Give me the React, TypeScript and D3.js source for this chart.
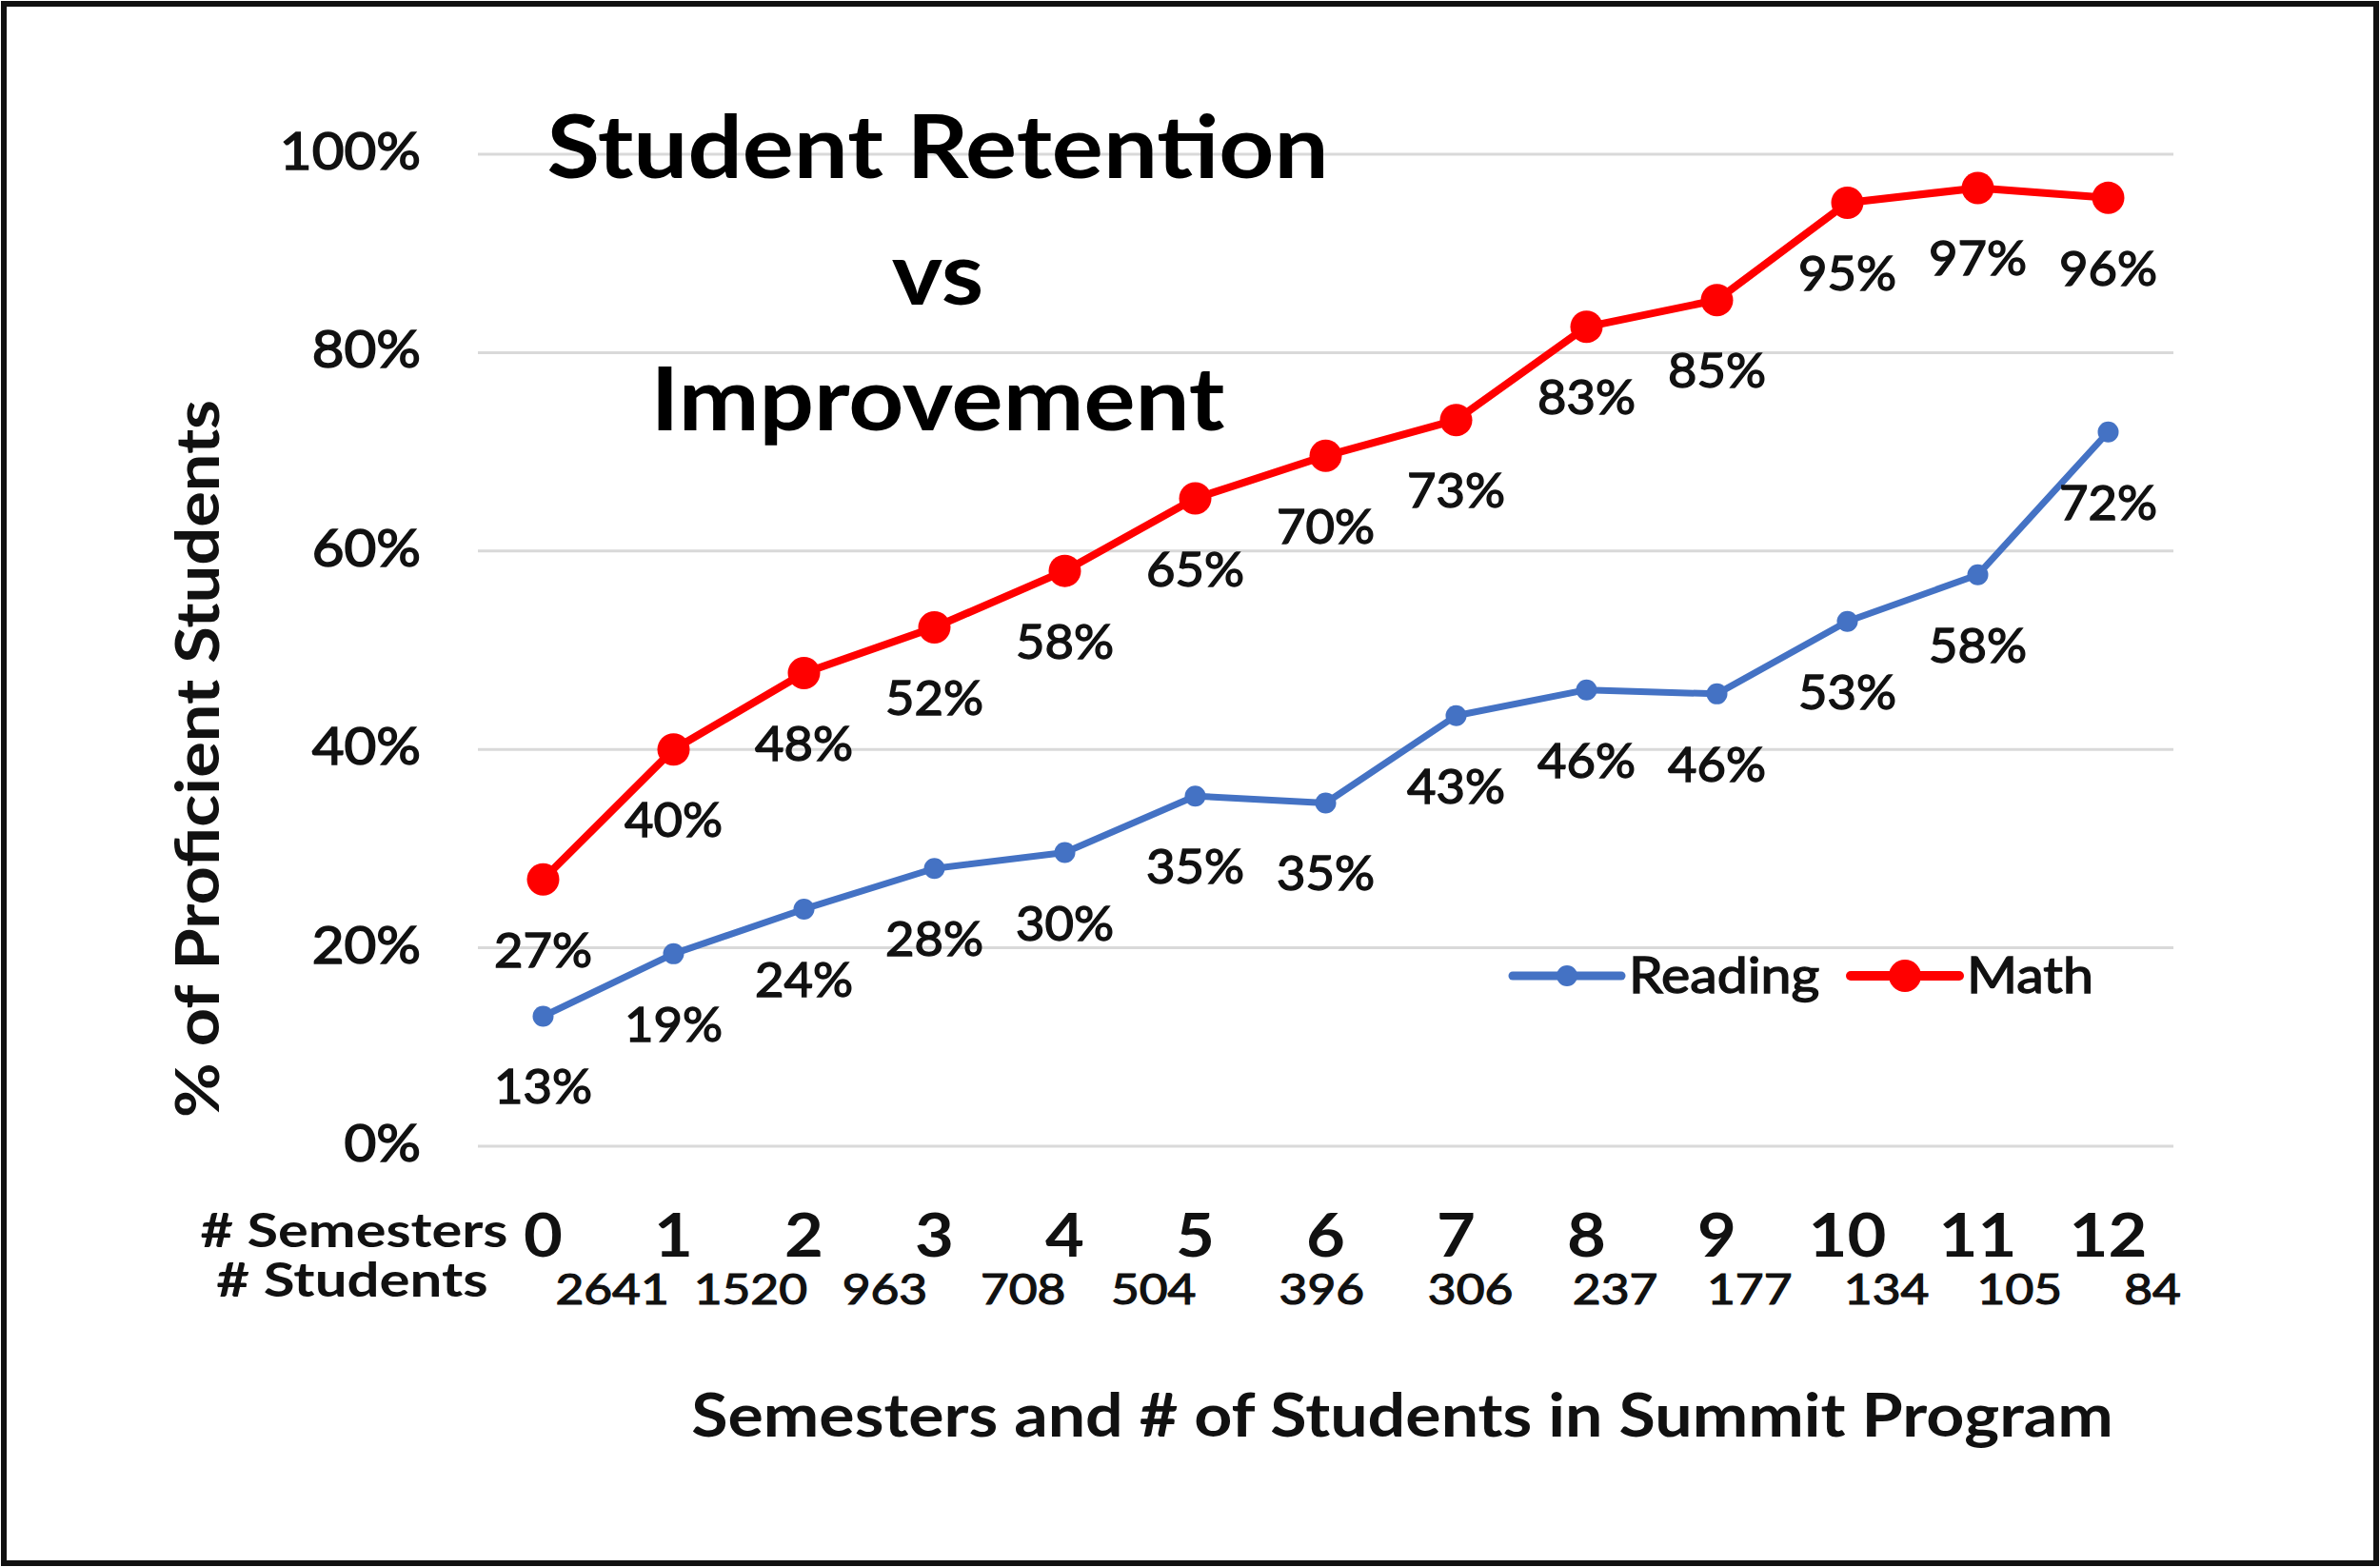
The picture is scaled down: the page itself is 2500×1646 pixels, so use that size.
import React from "react";
import * as d3 from "d3";

const semesters = ["0", "1", "2", "3", "4", "5", "6", "7", "8", "9", "10", "11", "12"];
const studentCounts = [2641, 1520, 963, 708, 504, 396, 306, 237, 177, 134, 105, 84];
const readingValues = [0.131, 0.194, 0.239, 0.28, 0.296, 0.353, 0.346, 0.434, 0.46, 0.456, 0.529, 0.576, 0.72];
const mathValues = [0.269, 0.4, 0.477, 0.523, 0.58, 0.653, 0.696, 0.732, 0.826, 0.853, 0.951, 0.966, 0.956];
const yTicks = [0, 0.2, 0.4, 0.6, 0.8, 1.0];
const titleLines = ["Student Retention", "vs", "Improvement"];

// layout: where each student-count label sits, in category units
const countSlots = [0.53, 1.59, 2.62, 3.68, 4.68, 5.97, 7.11, 8.22, 9.25, 10.3, 11.32, 12.34];

const W = 2500;
const H = 1646;
const FONT = "Lato, Carlito, 'Open Sans', sans-serif";

function T(props: any) {
  const { x, y, sx = 1, rot = 0, thick = 0, children, ...rest } = props;
  return (
    <text
      transform={`translate(${x},${y}) rotate(${rot}) scale(${sx},1)`}
      fontFamily={FONT}
      stroke={thick ? "#111" : undefined}
      strokeWidth={thick || undefined}
      paintOrder="stroke"
      {...rest}
    >
      {children}
    </text>
  );
}

export default function App() {
  const x = d3.scaleBand<string>().domain(semesters).range([502, 2283]).padding(0);
  const cx = (i: number) => (x(semesters[i]) as number) + x.bandwidth() / 2;
  const y = d3.scaleLinear().domain([0, 1]).range([1204, 162]);
  const pct = d3.format(".0%");

  const line = d3
    .line<number>()
    .x((_, i) => cx(i))
    .y((d) => y(d));

  const series = [
    { name: "Reading", values: readingValues, color: "#4472C4", width: 7, r: 11 },
    { name: "Math", values: mathValues, color: "#FF0000", width: 8, r: 17 },
  ];

  const slotX = (s: number) => cx(0) + s * x.bandwidth();

  return (
    <svg width={W} height={H} style={{ display: "block", position: "absolute", left: 0, top: 0 }}>
      <rect x={0} y={0} width={W} height={H} fill="#fff" />
      <rect x={4} y={4} width={W - 8} height={H - 8} fill="none" stroke="#111" strokeWidth={6} />

      {/* gridlines */}
      {yTicks.map((t) => (
        <line key={t} x1={502} x2={2283} y1={y(t)} y2={y(t)} stroke="#d9d9d9" strokeWidth={3} />
      ))}

      {/* y tick labels */}
      {yTicks.map((t) => (
        <T key={"yl" + t} x={442} y={y(t) + 16} sx={1.06} thick={1.6} fontSize={55} textAnchor="end" fill="#111">
          {pct(t)}
        </T>
      ))}

      {/* title */}
      {titleLines.map((s, i) => (
        <T key={s} x={985} y={187 + i * 132.5} sx={1.1} fontSize={92} fontWeight="bold" textAnchor="middle" fill="#000">
          {s}
        </T>
      ))}

      {/* y axis title */}
      <T x={230} y={797} rot={-90} sx={1.1} fontSize={64} fontWeight="bold" textAnchor="middle" fill="#111">
        % of Proficient Students
      </T>

      {/* series */}
      {series.map((s) => (
        <g key={s.name}>
          <path d={line(s.values) as string} fill="none" stroke={s.color} strokeWidth={s.width} strokeLinejoin="round" />
          {s.values.map((v, i) => (
            <circle key={i} cx={cx(i)} cy={y(v)} r={s.r} fill={s.color} />
          ))}
          {s.values.map((v, i) => (
            <T key={"l" + i} x={cx(i)} y={y(v) + 92} sx={1.05} thick={1.4} fontSize={50} textAnchor="middle" fill="#111">
              {pct(v)}
            </T>
          ))}
        </g>
      ))}

      {/* legend */}
      {series.map((s, k) => {
        const lx = k === 0 ? 1589 : 1944;
        return (
          <g key={"lg" + s.name}>
            <line x1={lx} x2={lx + 114} y1={1025} y2={1025} stroke={s.color} strokeWidth={s.width + 2} strokeLinecap="round" />
            <circle cx={lx + 57} cy={1025} r={s.r} fill={s.color} />
            <T x={lx + 122} y={1043} sx={1.08} thick={1.4} fontSize={53} fill="#111">
              {s.name}
            </T>
          </g>
        );
      })}

      {/* x axis rows */}
      <T x={372} y={1310} sx={1.19} fontSize={50} fontWeight="bold" textAnchor="middle" fill="#111">
        # Semesters
      </T>
      <T x={370} y={1362} sx={1.2} fontSize={50} fontWeight="bold" textAnchor="middle" fill="#111">
        # Students
      </T>
      {semesters.map((s, i) => (
        <T key={"s" + s} x={cx(i)} y={1320} sx={1.12} fontSize={63} fontWeight="bold" textAnchor="middle" fill="#111">
          {s}
        </T>
      ))}
      {studentCounts.map((c, i) => (
        <T key={"c" + i} x={slotX(countSlots[i])} y={1370} sx={1.17} thick={1.2} fontSize={44} textAnchor="middle" fill="#111">
          {c}
        </T>
      ))}

      <T x={1473} y={1509} sx={1.11} fontSize={63} fontWeight="bold" textAnchor="middle" fill="#111">
        Semesters and # of Students in Summit Program
      </T>
    </svg>
  );
}
